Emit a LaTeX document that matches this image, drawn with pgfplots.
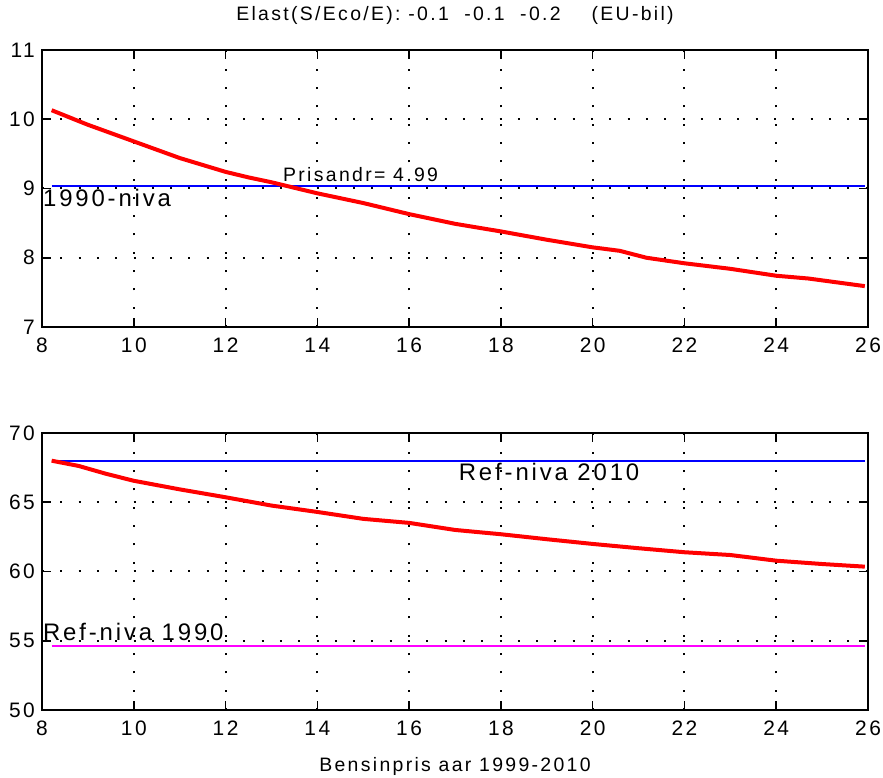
\documentclass[border=0pt]{standalone}
\usepackage{pgfplots}
\pgfplotsset{compat=1.18}
\usepackage{fontspec}
\setmainfont{Liberation Sans}[LetterSpace=12]

\definecolor{mred}{RGB}{255,0,0}
\definecolor{mblue}{RGB}{0,0,255}
\definecolor{mmag}{RGB}{255,0,255}

\pgfplotsset{
  mlab/.style={
    scale only axis,
    width=826bp, height=277bp,
    xmin=8, xmax=26,
    xtick={8,10,...,26},
    grid=major,
    major grid style={black, line width=2bp, dash pattern=on 2bp off 16.3bp},
    tick align=inside,
    tick pos=both,
    major tick length=9bp,
    every tick/.style={black, line width=1.6bp},
    axis line style={line width=2.5bp},
    /pgf/number format/assume math mode=true,
    tick label style={font=\fontsize{21}{25}\selectfont, inner sep=0pt},
    yticklabel style={anchor=east, xshift=-7bp},
    xticklabel style={anchor=north, yshift=-11bp},
  },
}
\tikzset{lbl/.style={anchor=base west, inner sep=0pt, font=\fontsize{24}{28}\selectfont}}

\begin{document}
\begin{tikzpicture}[x=1bp,y=1bp]
\useasboundingbox (0,0) rectangle (883,778);

% Upper panel: index against petrol price
\begin{axis}[mlab,
  at={(42bp,451bp)}, anchor=south west,
  ymin=7, ymax=11, ytick={7,8,9,10,11},
  title={Elast(S/Eco/E):~-0.1~~-0.1~~-0.2~~~~(EU-bil)},
  title style={at={(0.5,1)}, anchor=base, yshift=24bp, inner sep=0pt,
               font=\fontsize{19.5}{23}\selectfont},
]
\addplot[mblue, line width=2bp] coordinates {(8.21,9.04) (25.93,9.04)};
\addplot[mred, line width=4bp, line join=round] coordinates {
  (8.21,10.13) (9,9.92) (10,9.68) (11,9.44) (12,9.24) (12.5,9.16) (13,9.09)
  (14,8.93) (15,8.79) (16,8.63) (17,8.49) (18,8.38)
  (19,8.26) (20,8.15) (20.59,8.10) (21.17,8.00) (22,7.92) (23,7.84)
  (24,7.74) (24.7,7.70) (25.93,7.59)
};
\node[anchor=base west, inner sep=0pt, font=\fontsize{19.5}{23}\selectfont]
  at (axis cs:13.25,9.094) {Prisandr=~4.99};
\node[lbl] at (axis cs:8.02,8.747) {1990-niva};
\end{axis}

% Lower panel: reference levels
\begin{axis}[mlab,
  at={(42bp,68bp)}, anchor=south west,
  ymin=50, ymax=70, ytick={50,55,...,70},
  xlabel={Bensinpris aar 1999-2010},
  xlabel style={at={(0.5,0)}, anchor=base, yshift=-62bp, inner sep=0pt,
                font=\fontsize{19.5}{23}\selectfont},
]
\addplot[mblue, line width=2bp] coordinates {(8.21,68.0) (25.93,68.0)};
\addplot[mmag, line width=2bp] coordinates {(8.21,54.62) (25.93,54.62)};
\addplot[mred, line width=4bp, line join=round] coordinates {
  (8.21,68.0) (8.8,67.62) (9.4,67.05) (10,66.55) (11,65.93) (12,65.36)
  (13,64.76) (14,64.3) (15,63.8) (16,63.51) (17,63.0) (18,62.69)
  (19,62.33) (20,61.99) (21,61.68) (22,61.39) (23,61.19) (24,60.78)
  (25,60.54) (25.93,60.35)
};
\node[lbl] at (axis cs:17.08,66.56) {Ref-niva 2010};
\node[lbl] at (axis cs:8.02,55.0) {Ref-niva 1990};
\end{axis}
\end{tikzpicture}
\end{document}
